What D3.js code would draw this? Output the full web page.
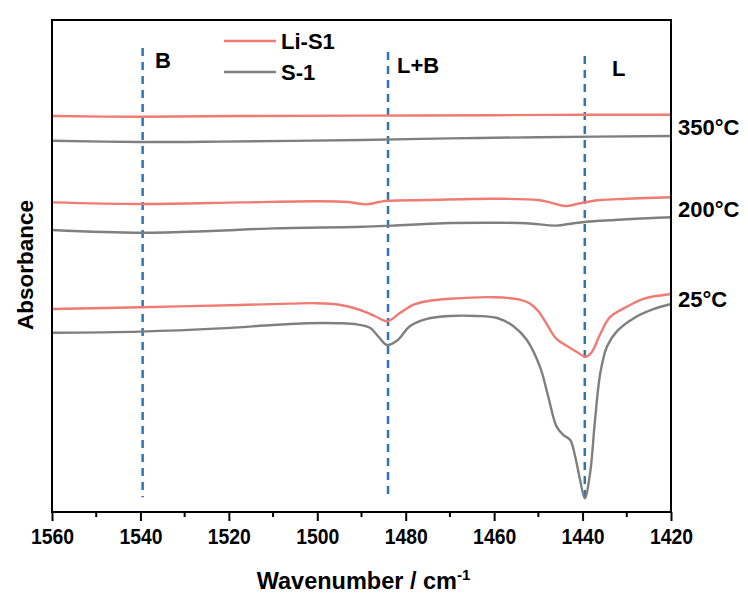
<!DOCTYPE html>
<html>
<head>
<meta charset="utf-8">
<script src="https://cdn.jsdelivr.net/npm/d3@7"></script>
<style>
  html, body { margin: 0; padding: 0; background: #fff; }
  svg { display: block; font-family: "Liberation Sans", Arial, sans-serif; font-weight: bold; }
</style>
</head>
<body>
<svg id="chart" width="748" height="597"></svg>
<script>
// Wavenumber (cm-1) sample positions and absorbance (a.u., stacked) for each trace
const wnLi350 = [1560, 1540, 1517, 1490, 1460, 1440, 1420];
const absLi350 = [0.990, 0.988, 0.990, 0.991, 0.992, 0.993, 0.993];

const wnS350 = [1560, 1540, 1522, 1490, 1470, 1450, 1420];
const absS350 = [0.928, 0.925, 0.926, 0.930, 0.934, 0.937, 0.940];

const wnLi200 = [1560, 1540, 1517, 1500, 1493, 1489, 1486, 1484, 1475, 1460, 1450, 1447, 1444, 1440.5, 1436, 1430, 1420];
const absLi200 = [0.774, 0.770, 0.774, 0.777, 0.775, 0.769, 0.775, 0.778, 0.780, 0.783, 0.780, 0.773, 0.765, 0.772, 0.780, 0.783, 0.787];

const wnS200 = [1560, 1540, 1524, 1510, 1490, 1483, 1471.5, 1460, 1452.6, 1446, 1442, 1436, 1420];
const absS200 = [0.705, 0.698, 0.7025, 0.709, 0.713, 0.716, 0.722, 0.723, 0.722, 0.716, 0.722, 0.728, 0.737];

const wnLi25 = [1560, 1540, 1517.5, 1506, 1500, 1495, 1490.3, 1487, 1484.2, 1481.3, 1478.3, 1475.2, 1470, 1460, 1454.2, 1452, 1450, 1448, 1446, 1442.8, 1441, 1439.3, 1437.9, 1436, 1433.8, 1430, 1426.2, 1420];
const absLi25 = [0.5075, 0.512, 0.5175, 0.521, 0.522, 0.518, 0.505, 0.490, 0.477, 0.4975, 0.518, 0.527, 0.533, 0.537, 0.531, 0.522, 0.502, 0.468, 0.434, 0.410, 0.398, 0.388, 0.400, 0.445, 0.487, 0.513, 0.533, 0.545];

const wnS25 = [1560, 1540, 1522, 1510, 1502.4, 1495, 1491, 1488, 1486.3, 1484.2, 1482, 1479, 1475.2, 1470, 1464, 1459.3, 1455.7, 1452.6, 1449.6, 1447.8, 1445.9, 1444.4, 1442.8, 1441.7, 1440.6, 1439.5, 1438.3, 1437.2, 1436, 1434.5, 1432.3, 1428.5, 1424, 1420];
const absS25 = [0.448, 0.451, 0.459, 0.4675, 0.472, 0.472, 0.469, 0.460, 0.440, 0.4175, 0.428, 0.465, 0.483, 0.490, 0.490, 0.485, 0.465, 0.430, 0.362, 0.290, 0.214, 0.193, 0.180, 0.140, 0.082, 0.034, 0.097, 0.228, 0.347, 0.413, 0.451, 0.484, 0.507, 0.520];

// Reference band positions (cm-1) and their labels
const bandPos = [1539.5, 1484, 1439.5];
const bandLabels = ["B", "L+B", "L"];

// Temperature labels and the absorbance level each one sits beside
const tempLabels = ["350°C", "200°C", "25°C"];
const tempLevels = [0.95, 0.745, 0.52];

const xTicks = [1560, 1540, 1520, 1500, 1480, 1460, 1440, 1420];
const seriesNames = ["Li-S1", "S-1"];

const colorLi = "#ef7b73";
const colorS = "#7f7f7f";
const colorBand = "#2e75b6";

const svg = d3.select("#chart");
const m = { left: 52, right: 671, top: 20, bottom: 512 };

const x = d3.scaleLinear().domain([1560, 1420]).range([m.left, m.right]);
const y = d3.scaleLinear().domain([0, 1.23]).range([m.bottom, m.top]);

// Band marker lines
const bandTopLevel = [1.16, 1.15, 1.14];
bandPos.forEach((p, i) => {
  svg.append("line")
    .attr("x1", x(p)).attr("x2", x(p))
    .attr("y1", y(bandTopLevel[i])).attr("y2", y(0.037))
    .attr("stroke", colorBand).attr("stroke-width", 2.5)
    .attr("stroke-dasharray", "8,6");
});
const bandLabelPos = [[155, 68], [397, 73], [612, 76]];
bandLabels.forEach((t, i) => {
  svg.append("text").attr("x", bandLabelPos[i][0]).attr("y", bandLabelPos[i][1])
    .attr("font-size", 22).attr("fill", "#000").text(t);
});

// Spectra
const line = d3.line().x(d => x(d[0])).y(d => y(d[1])).curve(d3.curveCatmullRom.alpha(0.5));
const traces = [
  [wnS25, absS25, colorS], [wnLi25, absLi25, colorLi],
  [wnS200, absS200, colorS], [wnLi200, absLi200, colorLi],
  [wnS350, absS350, colorS], [wnLi350, absLi350, colorLi]
];
traces.forEach(([wn, ab, c]) => {
  svg.append("path")
    .datum(wn.map((w, i) => [w, ab[i]]))
    .attr("fill", "none").attr("stroke", c).attr("stroke-width", 2.4)
    .attr("stroke-linejoin", "round").attr("d", line);
});

// Frame
svg.append("rect").attr("x", m.left).attr("y", m.top)
  .attr("width", m.right - m.left).attr("height", m.bottom - m.top)
  .attr("fill", "none").attr("stroke", "#000").attr("stroke-width", 2);

// Bottom axis with minor ticks
const minorTicks = d3.range(1550, 1420, -20);
svg.append("g").selectAll("line").data(minorTicks).join("line")
  .attr("x1", d => x(d)).attr("x2", d => x(d))
  .attr("y1", m.bottom).attr("y2", m.bottom + 5)
  .attr("stroke", "#000").attr("stroke-width", 2);
const xAxis = d3.axisBottom(x).tickValues(xTicks).tickSize(9).tickPadding(7).tickFormat(d3.format("d"));
const gx = svg.append("g").attr("transform", `translate(0,${m.bottom})`).call(xAxis);
gx.select(".domain").remove();
gx.selectAll(".tick line").attr("stroke", "#000").attr("stroke-width", 2);
gx.selectAll(".tick text").attr("font-size", 22).attr("font-weight", "bold")
  .attr("font-family", "Liberation Sans, Arial, sans-serif").attr("fill", "#000")
  .attr("transform", "scale(0.88,1)");

// Axis titles
const title = svg.append("text").attr("x", (m.left + m.right) / 2 + 2).attr("y", 589)
  .attr("text-anchor", "middle").attr("font-size", 23.5).attr("fill", "#000");
title.append("tspan").text("Wavenumber / cm");
title.append("tspan").attr("dy", -9).attr("font-size", 15).text("-1");

svg.append("text").attr("transform", "translate(33,265) rotate(-90)")
  .attr("text-anchor", "middle").attr("font-size", 22.5).attr("fill", "#000")
  .text("Absorbance");

// Temperature labels
tempLabels.forEach((t, i) => {
  svg.append("text").attr("x", 678).attr("y", y(tempLevels[i]) + 3)
    .attr("font-size", 22).attr("fill", "#000").text(t);
});

// Legend
const legend = svg.append("g");
[[colorLi, 41], [colorS, 72]].forEach(([c, ly], i) => {
  legend.append("line").attr("x1", 224).attr("x2", 276).attr("y1", ly).attr("y2", ly)
    .attr("stroke", c).attr("stroke-width", 2.4);
  legend.append("text").attr("x", 281).attr("y", ly + 8)
    .attr("font-size", 22).attr("fill", "#000").text(seriesNames[i]);
});
</script>
</body>
</html>
